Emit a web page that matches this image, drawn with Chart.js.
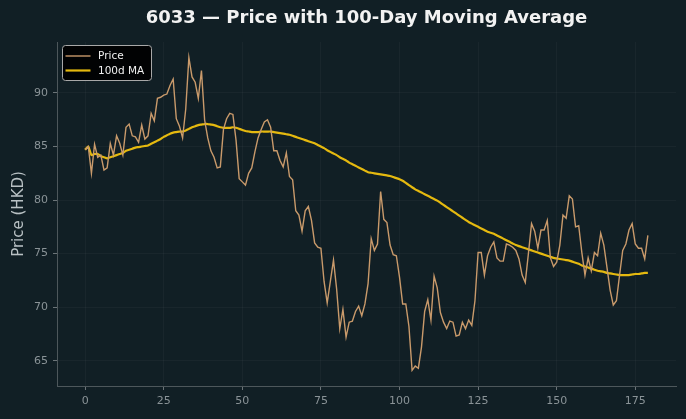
<!DOCTYPE html>
<html>
<head>
<meta charset="utf-8">
<script src="https://cdn.jsdelivr.net/npm/chart.js@4.4.0/dist/chart.umd.min.js"></script>
<style>
  html, body { margin: 0; padding: 0; background: #111f25; }
  #wrap { width: 686px; height: 419px; }
</style>
</head>
<body>
<div id="wrap"><canvas id="myChart"></canvas></div>
<script>
const titleText = '6033 — Price with 100-Day Moving Average';
const seriesNames = ['Price', '100d MA'];
const xTicks = [0, 25, 50, 75, 100, 125, 150, 175];
const yTicks = [65, 70, 75, 80, 85, 90];

const price = [
  84.7, 85.0, 82.5, 85.2, 84.0, 84.2, 82.8, 83.0, 85.3, 84.2,
  86.0, 85.3, 84.2, 86.8, 87.1, 86.0, 85.9, 85.4, 87.0, 85.7,
  86.0, 88.1, 87.4, 89.5, 89.6, 89.8, 89.9, 90.7, 91.3, 87.6,
  86.9, 85.8, 88.5, 93.3, 91.5, 91.0, 89.5, 92.1, 87.5, 85.8,
  84.6, 84.0, 83.0, 83.1, 86.6, 87.6, 88.1, 88.0, 85.6, 82.0,
  81.7, 81.4, 82.5, 83.0, 84.5, 85.8, 86.6, 87.3, 87.5, 86.8,
  84.6, 84.6, 83.7, 83.1, 84.4, 82.2, 81.9, 79.0, 78.6, 77.1,
  79.0, 79.4, 78.1, 76.0, 75.6, 75.5, 72.4, 70.4, 72.4, 74.4,
  71.7, 68.0, 69.8, 67.2, 68.6, 68.7, 69.6, 70.1, 69.2, 70.3,
  72.2, 76.4, 75.3, 75.9, 80.8, 78.2, 77.9, 75.8, 74.9, 74.8,
  72.8, 70.3, 70.3, 68.2, 64.1, 64.5, 64.3, 66.3, 69.6, 70.7,
  68.8, 72.9, 71.8, 69.5, 68.6, 68.0, 68.7, 68.6, 67.3, 67.4,
  68.6, 68.0, 68.8, 68.3, 70.6, 75.1, 75.1, 73.0, 74.8, 75.6,
  76.1, 74.6, 74.3, 74.3, 75.9, 75.8, 75.6, 75.3, 74.5, 73.0,
  72.3, 75.0, 77.8, 77.1, 75.5, 77.2, 77.2, 78.1, 74.6, 73.8,
  74.2, 75.8, 78.6, 78.3, 80.4, 80.1, 77.5, 77.6, 75.1, 73.0,
  74.6, 73.4, 75.1, 74.8, 76.9, 75.8, 73.7, 71.6, 70.2, 70.6,
  73.0, 75.3, 75.9, 77.2, 77.8, 75.9, 75.5, 75.5, 74.5, 76.7
];

const ma100 = [
  84.7, 85.0, 84.2, 84.3, 84.3, 84.1, 84.0, 83.9, 84.0, 84.1,
  84.2, 84.3, 84.4, 84.6, 84.7, 84.8, 84.9, 84.95, 85.0, 85.05,
  85.1, 85.25, 85.4, 85.55, 85.7, 85.9, 86.05, 86.2, 86.3, 86.35,
  86.4, 86.4, 86.5, 86.65, 86.8, 86.9, 87.0, 87.05, 87.1, 87.1,
  87.05, 87.0, 86.9, 86.8, 86.75, 86.75, 86.75, 86.8, 86.75, 86.65,
  86.55, 86.45, 86.4, 86.35, 86.35, 86.35, 86.4, 86.4, 86.4, 86.4,
  86.35, 86.3, 86.25, 86.2, 86.15, 86.1, 86.0, 85.9, 85.8, 85.7,
  85.6, 85.5, 85.4, 85.3, 85.15, 85.0, 84.85, 84.65, 84.5, 84.35,
  84.2, 84.0, 83.85, 83.7, 83.5, 83.35, 83.2, 83.05, 82.9, 82.75,
  82.6, 82.55, 82.5, 82.45, 82.4, 82.35, 82.3, 82.25, 82.15, 82.05,
  81.95, 81.8, 81.6, 81.4, 81.2, 81.0, 80.85, 80.7, 80.55, 80.4,
  80.25, 80.1, 79.95, 79.75, 79.55, 79.35, 79.15, 78.95, 78.75, 78.55,
  78.35, 78.15, 77.95, 77.8, 77.65, 77.5, 77.35, 77.2, 77.05, 76.95,
  76.85, 76.7, 76.55, 76.4, 76.25, 76.1, 75.95, 75.8, 75.7, 75.6,
  75.5, 75.4, 75.3, 75.2, 75.1, 75.0, 74.9, 74.8, 74.7, 74.6,
  74.55, 74.5, 74.45, 74.4, 74.35, 74.25, 74.15, 74.05, 73.9, 73.8,
  73.7, 73.6, 73.5, 73.4, 73.35, 73.3, 73.2, 73.15, 73.1, 73.05,
  73.0, 73.0, 73.0, 73.0, 73.05, 73.1, 73.1, 73.15, 73.2, 73.2
];

const priceColor = '#c99a6b';
const maColor = '#e5b90f';
const font = 'DejaVu Sans';

// title + legend drawn over the plot like the original figure
const overlay = {
  id: 'overlay',
  afterDraw(chart) {
    const ctx = chart.ctx;
    const area = chart.chartArea;
    ctx.save();
    ctx.fillStyle = '#f2f2f2';
    ctx.font = 'bold 18px "' + font + '"';
    ctx.textAlign = 'center';
    ctx.textBaseline = 'middle';
    ctx.fillText(titleText, (area.left + area.right) / 2, 18);

    // legend box
    const bx = area.left + 5.5, by = area.top + 3.5, bw = 89, bh = 35;
    ctx.beginPath();
    ctx.roundRect(bx, by, bw, bh, 3);
    ctx.fillStyle = 'rgba(0,0,0,0.92)';
    ctx.fill();
    ctx.strokeStyle = '#a8a8a8';
    ctx.lineWidth = 1;
    ctx.stroke();

    const rows = [[seriesNames[0], priceColor, 1.4], [seriesNames[1], maColor, 2.2]];
    ctx.font = '10.5px "' + font + '"';
    ctx.textAlign = 'left';
    rows.forEach((r, i) => {
      const y = by + 10.5 + i * 14.5;
      ctx.beginPath();
      ctx.moveTo(bx + 3, y);
      ctx.lineTo(bx + 28, y);
      ctx.strokeStyle = r[1];
      ctx.lineWidth = r[2];
      ctx.stroke();
      ctx.fillStyle = '#f0f0f0';
      ctx.fillText(r[0], bx + 35.5, y + 0.5);
    });
    ctx.restore();
  }
};

new Chart(document.getElementById('myChart'), {
  type: 'line',
  data: {
    datasets: [{
      label: seriesNames[0],
      data: price.map((v, i) => ({ x: i, y: v })),
      borderColor: priceColor,
      borderWidth: 1.4,
      pointRadius: 0,
      tension: 0,
      fill: false
    }, {
      label: seriesNames[1],
      data: ma100.map((v, i) => ({ x: i, y: v })),
      borderColor: maColor,
      borderWidth: 2.2,
      pointRadius: 0,
      tension: 0.2,
      fill: false
    }]
  },
  options: {
    responsive: true,
    maintainAspectRatio: false,
    animation: false,
    events: [],
    layout: { padding: { top: 42, right: 10, left: 0, bottom: 0 } },
    plugins: {
      legend: { display: false },
      title: { display: false },
      tooltip: { enabled: false }
    },
    scales: {
      x: {
        type: 'linear',
        min: -8.95,
        max: 187.95,
        afterBuildTicks: s => { s.ticks = xTicks.map(v => ({ value: v })); },
        afterFit: s => { s.height = 33; },
        ticks: { color: '#8a9397', font: { family: font, size: 11 }, padding: 5 },
        grid: { color: 'rgba(255,255,255,0.035)', tickColor: '#6b7478', tickLength: 4 },
        border: { color: '#4d575b', width: 1 }
      },
      y: {
        min: 62.64,
        max: 94.76,
        afterBuildTicks: s => { s.ticks = yTicks.map(v => ({ value: v })); },
        afterFit: s => { s.width = 57; },
        title: {
          display: true,
          text: 'Price (HKD)',
          color: '#b9c1c4',
          font: { family: font, size: 15 },
          padding: { top: 10, bottom: 4 }
        },
        ticks: { color: '#8a9397', font: { family: font, size: 11 }, padding: 5 },
        grid: { color: 'rgba(255,255,255,0.035)', tickColor: '#6b7478', tickLength: 4 },
        border: { color: '#4d575b', width: 1 }
      }
    }
  },
  plugins: [overlay]
});
</script>
</body>
</html>
